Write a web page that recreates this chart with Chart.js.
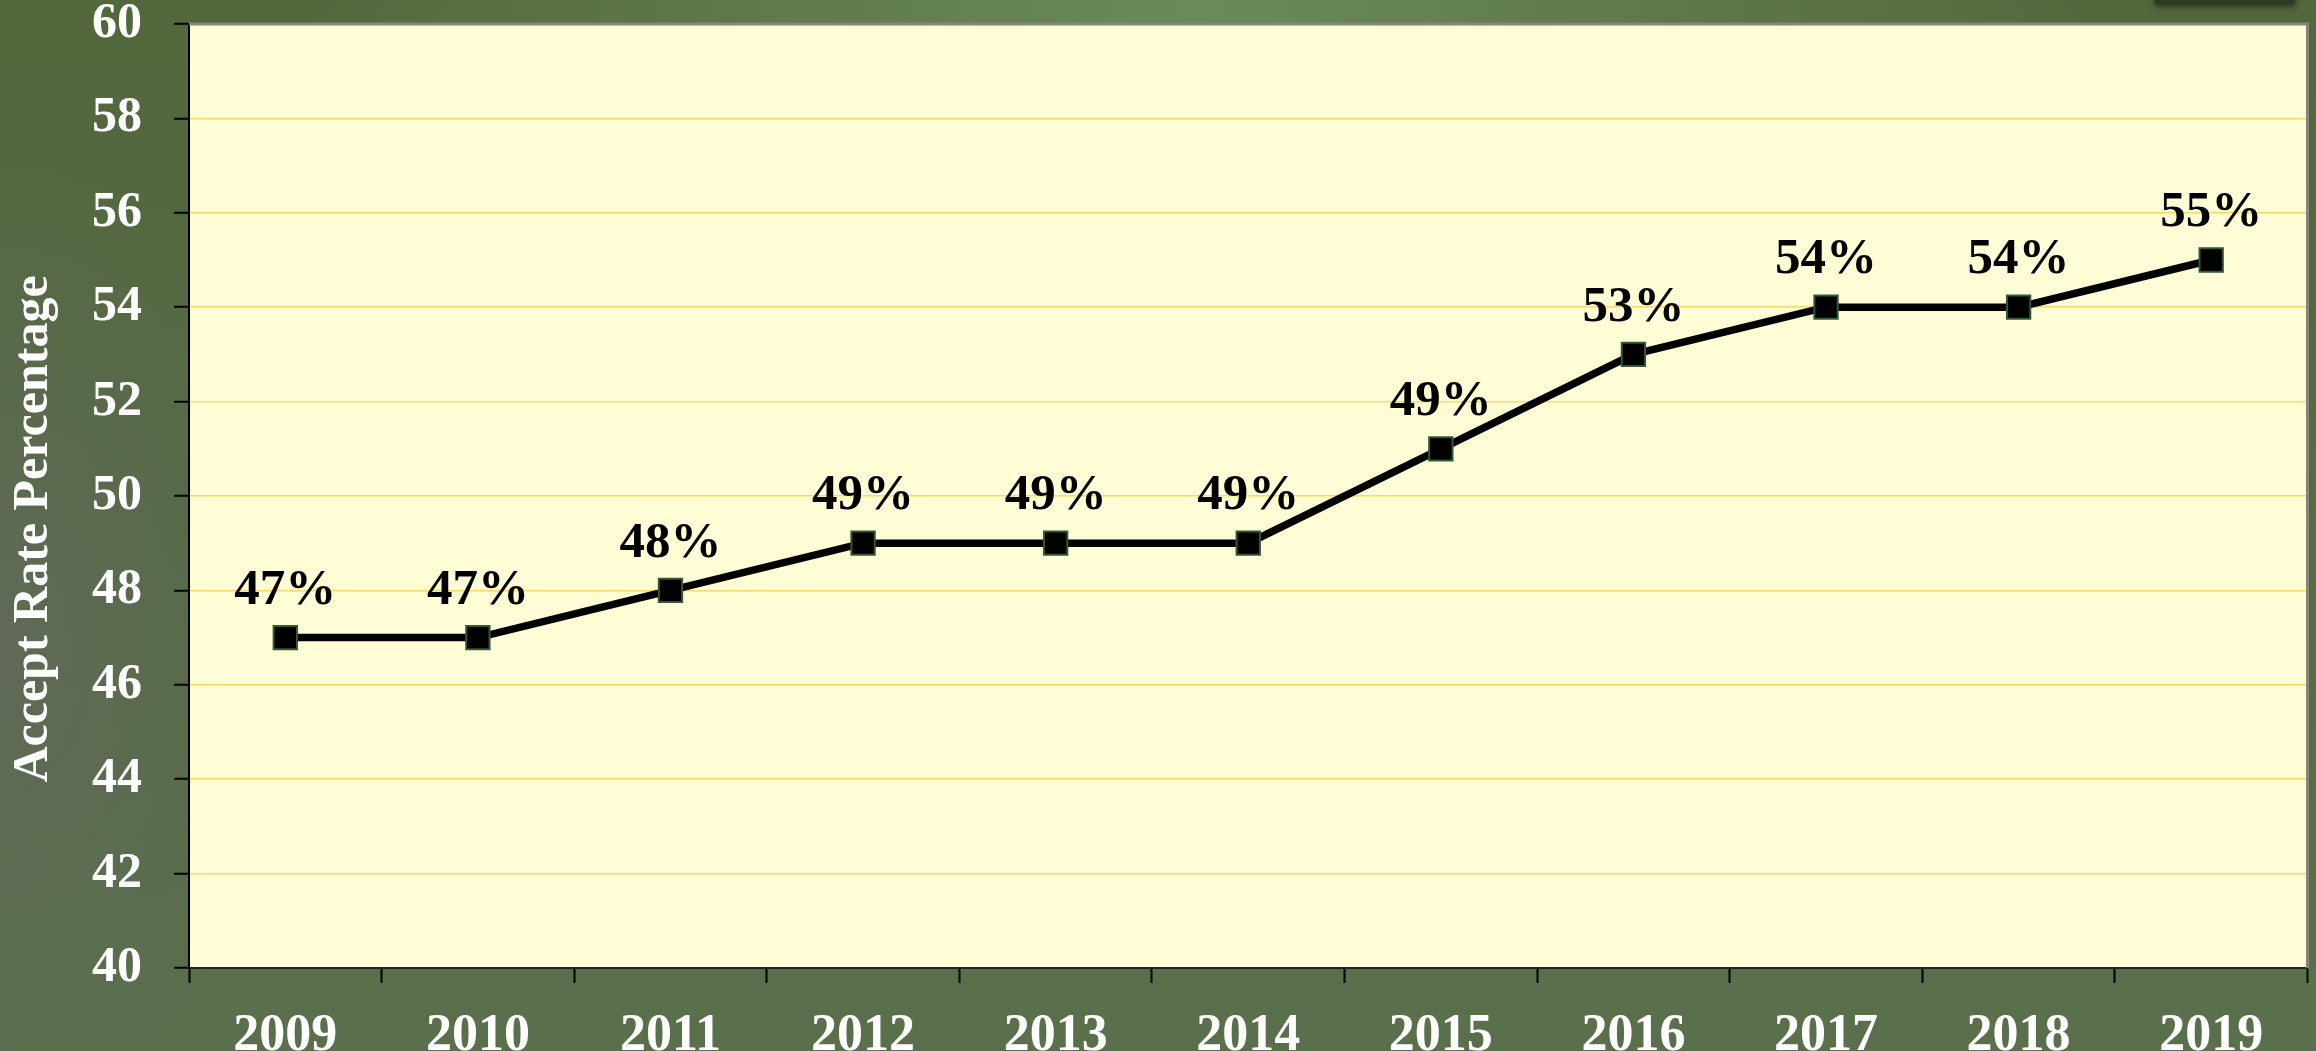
<!DOCTYPE html>
<html>
<head>
<meta charset="utf-8">
<script src="https://cdn.jsdelivr.net/npm/chart.js@4.4.1/dist/chart.umd.min.js"></script>
<style>
  html, body { margin: 0; padding: 0; }
  body {
    width: 2316px; height: 1051px; overflow: hidden; position: relative;
    background:
      radial-gradient(ellipse 900px 700px at 1200px 0px, rgba(110,145,95,0.85), rgba(110,145,95,0) 100%),
      radial-gradient(ellipse 300px 500px at 0px 650px, rgba(100,105,95,0.7), rgba(100,105,95,0) 100%),
      linear-gradient(180deg, #53673d 0%, #566b45 60%, #5a6f4c 100%);
  }
  #wrap { position: absolute; left: 0; top: 0; width: 2326px; height: 1051px; }
  #shade {
    position: absolute; left: 2155px; top: -10px; width: 140px; height: 14px;
    background: #2f3a24; box-shadow: 0 2px 6px rgba(20,25,15,0.8);
  }
</style>
</head>
<body>
<div id="shade"></div>
<div id="wrap"><canvas id="chart"></canvas></div>
<script>
// ========== DATA ==========
const years = ["2009", "2010", "2011", "2012", "2013", "2014", "2015", "2016", "2017", "2018", "2019"];
const acceptRate = [47, 47, 48, 49, 49, 49, 51, 53, 54, 54, 55];
const pointLabels = ["47%", "47%", "48%", "49%", "49%", "49%", "49%", "53%", "54%", "54%", "55%"];
const yTicks = [40, 42, 44, 46, 48, 50, 52, 54, 56, 58, 60];
const yTitle = "Accept Rate Percentage";

const serif = "'Liberation Serif', 'Times New Roman', serif";

// plot background + top/right frame + y title
const plotFrame = {
  id: "plotFrame",
  beforeDraw(chart) {
    const { ctx, chartArea: a } = chart;
    ctx.save();
    ctx.fillStyle = "#fffcd6";
    ctx.fillRect(a.left, a.top, a.right - a.left, a.bottom - a.top);
    ctx.restore();
  },
  afterDraw(chart) {
    const { ctx, chartArea: a } = chart;
    ctx.save();
    ctx.strokeStyle = "#85857a";
    ctx.lineWidth = 3;
    ctx.beginPath();
    ctx.moveTo(a.left, a.top);
    ctx.lineTo(a.right, a.top);
    ctx.lineTo(a.right, a.bottom);
    ctx.stroke();
    ctx.translate(34, 529);
    ctx.rotate(-Math.PI / 2);
    ctx.fillStyle = "#ffffff";
    ctx.font = "bold 50px " + serif;
    ctx.textAlign = "center";
    ctx.textBaseline = "middle";
    ctx.fillText(yTitle, 0, 0);
    ctx.restore();
  }
};

// value labels above points
const valueLabels = {
  id: "valueLabels",
  afterDatasetsDraw(chart) {
    const { ctx } = chart;
    const meta = chart.getDatasetMeta(0);
    ctx.save();
    ctx.fillStyle = "#000000";
    ctx.font = "bold 51px " + serif;
    ctx.textAlign = "center";
    ctx.textBaseline = "middle";
    meta.data.forEach((pt, i) => {
      ctx.fillText(pointLabels[i], pt.x, pt.y - 47);
    });
    ctx.restore();
  }
};

new Chart(document.getElementById("chart"), {
  type: "line",
  data: {
    labels: years,
    datasets: [{
      data: acceptRate,
      borderColor: "#000000",
      borderWidth: 7.5,
      pointStyle: "rect",
      pointRadius: 16.5,
      pointBackgroundColor: "#000000",
      pointBorderColor: "#2e5a38",
      pointBorderWidth: 2,
      tension: 0,
      clip: false
    }]
  },
  options: {
    responsive: true,
    maintainAspectRatio: false,
    animation: false,
    layout: { padding: { top: 24, right: 0, left: 0, bottom: 0 } },
    plugins: { legend: { display: false }, tooltip: { enabled: false } },
    scales: {
      x: {
        offset: true,
        grid: { offset: true, drawOnChartArea: false, tickColor: "#000000", tickLength: 15, tickWidth: 2 },
        border: { color: "#222222", width: 2 },
        ticks: { color: "#ffffff", padding: 22, font: { family: serif, size: 52, weight: "bold" } },
        afterFit(scale) {
          scale.height = 83;
          scale.paddingLeft = 0; scale.paddingRight = 0;
        }
      },
      y: {
        min: 40,
        max: 60,
        afterBuildTicks(scale) { scale.ticks = yTicks.map(v => ({ value: v })); },
        grid: { color: "#ffd95e", lineWidth: 1.5, tickColor: "#000000", tickLength: 15, tickWidth: 2 },
        border: { color: "#000000", width: 2 },
        ticks: { color: "#ffffff", padding: 32, font: { family: serif, size: 50, weight: "bold", lineHeight: 1 } },
        afterFit(scale) {
          scale.width = 189;
          scale.paddingTop = 0; scale.paddingBottom = 0;
        }
      }
    }
  },
  plugins: [plotFrame, valueLabels]
});
</script>
</body>
</html>
